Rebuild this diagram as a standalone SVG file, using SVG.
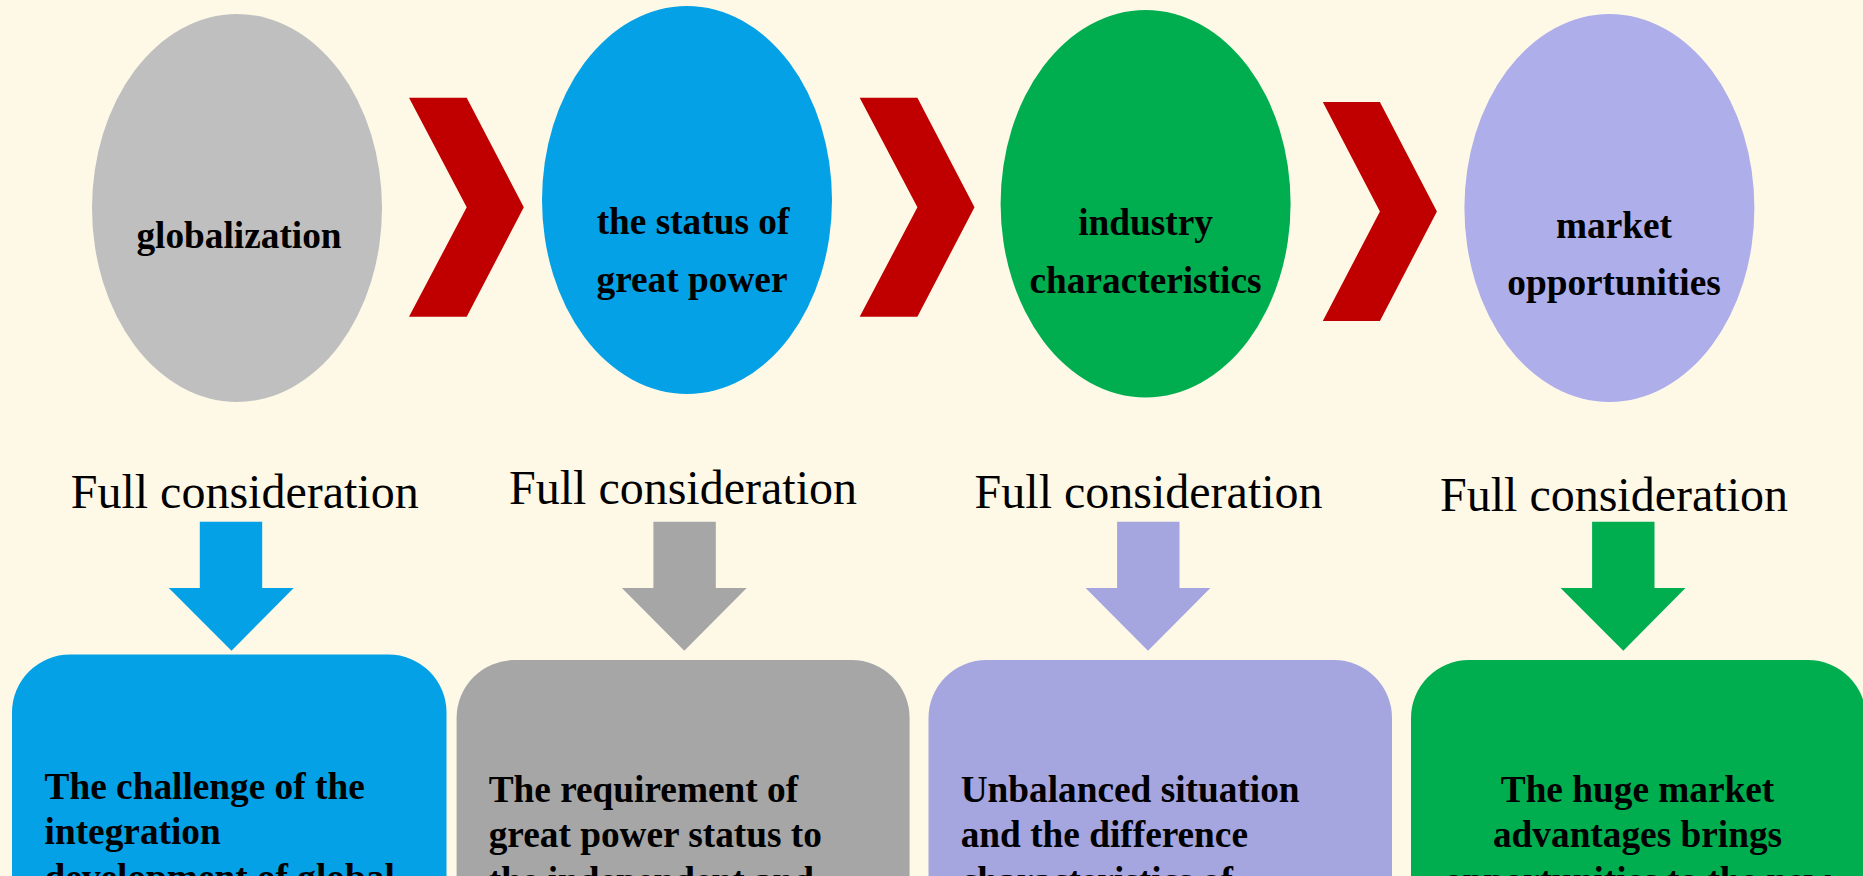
<svg xmlns="http://www.w3.org/2000/svg" width="1863" height="876" viewBox="0 0 1863 876">
<style>
.t{font-family:"Liberation Serif","Times New Roman",serif;font-weight:bold;font-size:37.3px;fill:#000}
.lbl{font-family:"Liberation Serif","Times New Roman",serif;font-size:48px;fill:#000;text-anchor:middle}
.c{text-anchor:middle}
.chev{fill:#C00000}
</style>
<rect x="0" y="0" width="1863" height="876" fill="#FEF9E7"/>
<g id="globalization">
<ellipse cx="237" cy="208" rx="145" ry="194" fill="#BFBFBF"/>
<text class="t c" x="239" y="248">globalization</text>
</g>
<g id="great-power">
<ellipse cx="687" cy="200" rx="145" ry="194" fill="#04A1E6"/>
<text class="t c" x="693" y="233.5">the status of</text>
<text class="t c" x="692" y="292">great power</text>
</g>
<g id="industry">
<ellipse cx="1145.6" cy="203.7" rx="145" ry="193.7" fill="#00AE50"/>
<text class="t c" x="1145.5" y="234.5">industry</text>
<text class="t c" x="1145.5" y="292.5">characteristics</text>
</g>
<g id="market">
<ellipse cx="1609.4" cy="208" rx="145" ry="194" fill="#AEAEEB"/>
<text class="t c" x="1614" y="237.5">market</text>
<text class="t c" x="1614" y="294.5">opportunities</text>
</g>
<g id="connectors">
<polygon class="chev" points="409,97.7 466.7,97.7 523.8,207.3 466.7,316.7 409,316.7 466.7,207.3"/>
<polygon class="chev" points="859.7,97.7 917.4,97.7 974.5,207.3 917.4,316.7 859.7,316.7 917.4,207.3"/>
<polygon class="chev" points="1322.8,102 1379.9,102 1436.9,211.5 1379.9,321 1322.8,321 1379.9,211.5"/>
<polygon fill="#04A1E6" points="199.8,521.7 262.2,521.7 262.2,588 293.7,588 231.5,650.7 168.8,588 199.8,588"/>
<polygon fill="#A6A6A6" points="653.4,521.7 715.8,521.7 715.8,588 746.7,588 684.3,650.7 621.9,588 653.4,588"/>
<polygon fill="#A5A5E0" points="1117.1,521.7 1179.5,521.7 1179.5,588 1210.4,588 1148,650.7 1085.6,588 1117.1,588"/>
<polygon fill="#00AE50" points="1592.1,521.7 1654.5,521.7 1654.5,588 1685.5,588 1623.3,650.7 1560.6,588 1592.1,588"/>
</g>
<g id="labels">
<text class="lbl" x="244.7" y="507.5">Full consideration</text>
<text class="lbl" x="683" y="504">Full consideration</text>
<text class="lbl" x="1148.6" y="507.5">Full consideration</text>
<text class="lbl" x="1614" y="510.5">Full consideration</text>
</g>
<g id="box-global">
<rect x="12" y="654.5" width="434.5" height="300" rx="58" fill="#04A1E6"/>
<text class="t" x="44.6" y="798.5">The challenge of the</text>
<text class="t" x="44.6" y="844.2">integration</text>
<text class="t" x="44.6" y="890">development of global</text>
</g>
<g id="box-power">
<rect x="456.6" y="660" width="453" height="300" rx="58" fill="#A6A6A6"/>
<text class="t" x="488.7" y="801.7">The requirement of</text>
<text class="t" x="488.7" y="847.4">great power status to</text>
<text class="t" x="488.7" y="893">the independent and</text>
</g>
<g id="box-industry">
<rect x="928.5" y="660" width="463.5" height="300" rx="58" fill="#A5A5E0"/>
<text class="t" x="960.7" y="801.7">Unbalanced situation</text>
<text class="t" x="960.7" y="847.4">and the difference</text>
<text class="t" x="960.7" y="893">characteristics of</text>
</g>
<g id="box-market">
<rect x="1411" y="660" width="455" height="300" rx="58" fill="#00AE50"/>
<text class="t c" x="1637.5" y="801.7">The huge market</text>
<text class="t c" x="1637.5" y="847.4">advantages brings</text>
<text class="t c" x="1637.5" y="893">opportunities to the new</text>
</g>
</svg>
